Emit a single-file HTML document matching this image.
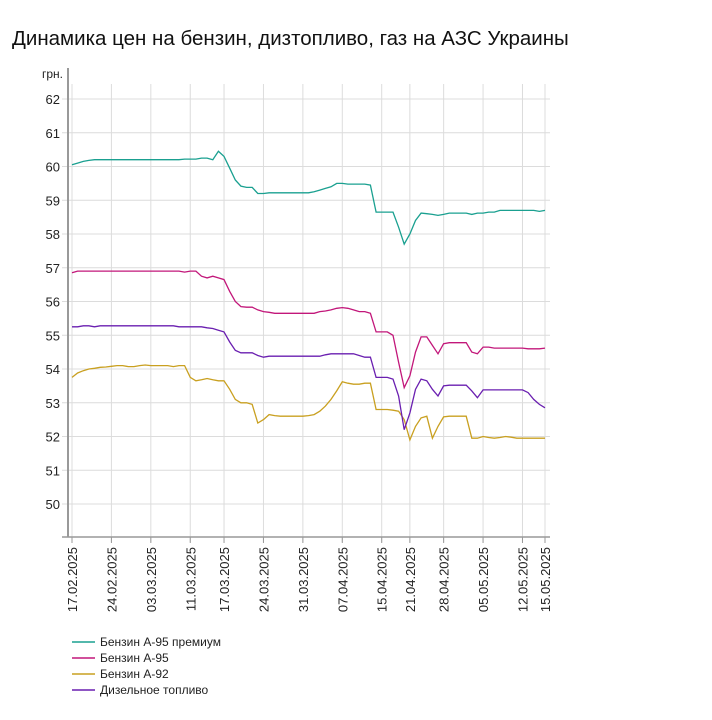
<!DOCTYPE html>
<html><head><meta charset="utf-8"><style>
body{margin:0;background:#fff;width:712px;height:720px;overflow:hidden;font-family:"Liberation Sans",sans-serif}
.title{position:absolute;left:12px;top:27px;font-size:20.5px;color:#111}
</style></head><body>
<div class="title">Динамика цен на бензин, дизтопливо, газ на АЗС Украины</div>
<svg id="c" width="712" height="720" style="position:absolute;left:0;top:0"></svg>
<script>
const yTicks=[50,51,52,53,54,55,56,57,58,59,60,61,62];
const tickLabels=["17.02.2025","24.02.2025","03.03.2025","11.03.2025","17.03.2025","24.03.2025","31.03.2025","07.04.2025","15.04.2025","21.04.2025","28.04.2025","05.05.2025","12.05.2025","15.05.2025"];
const tickIndex=[0,7,14,21,27,34,41,48,55,60,66,73,80,84];
const seriesNames=["Бензин А-95 премиум","Бензин А-95","Бензин А-92","Дизельное топливо"];
const a95p=[60.05,60.1,60.15,60.18,60.2,60.2,60.2,60.2,60.2,60.2,60.2,60.2,60.2,60.2,60.2,60.2,60.2,60.2,60.2,60.2,60.22,60.22,60.22,60.25,60.25,60.2,60.45,60.3,59.95,59.6,59.42,59.38,59.38,59.2,59.2,59.22,59.22,59.22,59.22,59.22,59.22,59.22,59.22,59.25,59.3,59.35,59.4,59.5,59.5,59.48,59.48,59.48,59.48,59.45,58.65,58.65,58.65,58.65,58.2,57.7,58.0,58.4,58.62,58.6,58.58,58.55,58.58,58.62,58.62,58.62,58.62,58.58,58.62,58.62,58.65,58.65,58.7,58.7,58.7,58.7,58.7,58.7,58.7,58.67,58.7];
const a95=[56.85,56.9,56.9,56.9,56.9,56.9,56.9,56.9,56.9,56.9,56.9,56.9,56.9,56.9,56.9,56.9,56.9,56.9,56.9,56.9,56.87,56.9,56.9,56.75,56.7,56.75,56.7,56.65,56.3,56.0,55.85,55.83,55.83,55.75,55.7,55.68,55.65,55.65,55.65,55.65,55.65,55.65,55.65,55.65,55.7,55.72,55.75,55.8,55.82,55.8,55.75,55.7,55.7,55.65,55.1,55.1,55.1,55.0,54.2,53.45,53.8,54.5,54.95,54.95,54.7,54.45,54.75,54.78,54.78,54.78,54.78,54.5,54.45,54.65,54.65,54.62,54.62,54.62,54.62,54.62,54.62,54.6,54.6,54.6,54.62];
const a92=[53.75,53.88,53.95,54.0,54.02,54.05,54.06,54.08,54.1,54.1,54.07,54.07,54.1,54.12,54.1,54.1,54.1,54.1,54.07,54.1,54.1,53.75,53.65,53.68,53.72,53.68,53.65,53.65,53.4,53.1,53.0,53.0,52.95,52.4,52.5,52.65,52.62,52.6,52.6,52.6,52.6,52.6,52.62,52.65,52.75,52.9,53.1,53.35,53.62,53.58,53.55,53.55,53.58,53.58,52.8,52.8,52.8,52.78,52.75,52.5,51.9,52.3,52.55,52.6,51.95,52.3,52.58,52.6,52.6,52.6,52.6,51.95,51.95,52.0,51.97,51.95,51.97,52.0,51.98,51.95,51.95,51.95,51.95,51.95,51.95];
const diesel=[55.25,55.25,55.28,55.28,55.25,55.28,55.28,55.28,55.28,55.28,55.28,55.28,55.28,55.28,55.28,55.28,55.28,55.28,55.28,55.25,55.25,55.25,55.25,55.25,55.22,55.2,55.15,55.1,54.8,54.55,54.48,54.48,54.48,54.4,54.35,54.38,54.38,54.38,54.38,54.38,54.38,54.38,54.38,54.38,54.38,54.42,54.45,54.45,54.45,54.45,54.45,54.4,54.35,54.35,53.75,53.75,53.75,53.7,53.2,52.2,52.7,53.4,53.7,53.65,53.4,53.2,53.5,53.52,53.52,53.52,53.52,53.35,53.15,53.38,53.38,53.38,53.38,53.38,53.38,53.38,53.38,53.3,53.1,52.95,52.85];
const colors=["#1aa090","#c2177a","#c9a020","#6a1fb0"];
const X=i=>72+i*(545-72)/84;
const Y=v=>99+(62-v)*(504-99)/12;
const svg=document.getElementById('c');
const NS='http://www.w3.org/2000/svg';
function mk(t,a){const e=document.createElementNS(NS,t);for(const k in a)e.setAttribute(k,a[k]);svg.appendChild(e);return e;}
yTicks.forEach(v=>{const l=mk('line',{x1:62,x2:550,y1:Y(v),y2:Y(v),stroke:'#dcdcdc','stroke-width':1});


const t=mk('text',{x:60,y:Y(v)+5,'text-anchor':'end','font-size':13,fill:'#222'});t.textContent=v;

});
tickIndex.forEach((ix,k)=>{const x=X(ix);const l=mk('line',{x1:x,x2:x,y1:84,y2:542,stroke:'#dcdcdc','stroke-width':1});


const tm=mk('line',{x1:x,x2:x,y1:537,y2:543,stroke:'#999'});


const t=mk('text',{x:0,y:0,'font-size':13,fill:'#222','text-anchor':'end',transform:`translate(${x+5},547) rotate(-90)`});t.textContent=tickLabels[k];

});
const ax=mk('line',{x1:68,x2:68,y1:68,y2:537,stroke:'#999','stroke-width':2});


const bx=mk('line',{x1:62,x2:550,y1:537,y2:537,stroke:'#999','stroke-width':1.5});


const yl=mk('text',{x:42,y:78,'font-size':12,fill:'#222'});yl.textContent='грн.';


[a95p,a95,a92,diesel].forEach((s,k)=>{
const p=mk('polyline',{points:s.map((v,i)=>X(i).toFixed(1)+','+Y(v).toFixed(1)).join(' '),fill:'none',stroke:colors[k],'stroke-width':1.3});


const ly=642+k*16;
const ll=mk('line',{x1:72,x2:95,y1:ly,y2:ly,stroke:colors[k],'stroke-width':1.5});


const lt=mk('text',{x:100,y:ly+4,'font-size':12,fill:'#222'});lt.textContent=seriesNames[k];


});
</script>
</body></html>
